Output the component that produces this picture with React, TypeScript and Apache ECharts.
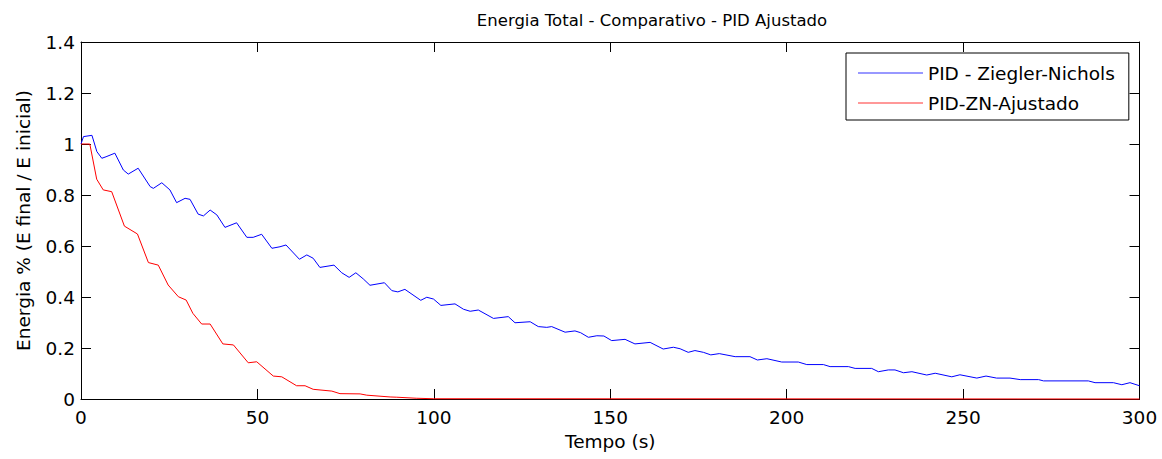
import React, { useEffect, useRef } from "react";
import * as echarts from "echarts";

// Blue series: PID - Ziegler-Nichols
const zigTime = [0, 0.7, 3.1, 4.5, 5.9, 7.1, 9.6, 12.0, 13.4, 16.2, 19.6, 20.5, 22.9, 25.2, 27.1, 29.5, 30.9, 33.2, 34.7, 36.6, 38.5, 40.8, 44.1, 47.0, 48.8, 51.2, 54.1, 56.4, 58.1, 61.9, 64.0, 65.8, 67.7, 71.7, 73.9, 76.0, 77.9, 80.0, 81.9, 86.0, 88.1, 89.8, 91.8, 96.3, 98.0, 99.9, 102.0, 106.0, 108.4, 110.3, 112.6, 116.9, 121.1, 123.0, 127.3, 129.6, 132.0, 133.4, 137.2, 140.0, 141.6, 143.8, 146.2, 148.2, 150.4, 154.2, 157.0, 161.3, 165.0, 167.9, 169.8, 172.1, 174.0, 176.4, 178.5, 180.9, 185.4, 189.6, 191.7, 194.4, 198.6, 203.3, 205.7, 210.4, 212.3, 217.5, 219.4, 224.1, 226.0, 228.8, 230.7, 233.1, 235.5, 239.7, 242.1, 246.8, 249.1, 253.9, 256.5, 259.5, 263.3, 266.2, 271.4, 272.8, 285.5, 287.4, 292.6, 295.0, 297.3, 300];
const zigEnergy = [1.0, 1.029, 1.034, 0.97, 0.944, 0.95, 0.964, 0.898, 0.882, 0.905, 0.833, 0.826, 0.848, 0.82, 0.77, 0.787, 0.783, 0.725, 0.718, 0.741, 0.722, 0.673, 0.691, 0.634, 0.634, 0.646, 0.591, 0.597, 0.604, 0.548, 0.565, 0.552, 0.516, 0.525, 0.495, 0.477, 0.495, 0.471, 0.446, 0.456, 0.425, 0.42, 0.43, 0.387, 0.399, 0.392, 0.367, 0.373, 0.352, 0.344, 0.349, 0.316, 0.323, 0.299, 0.303, 0.284, 0.281, 0.284, 0.262, 0.267, 0.26, 0.242, 0.248, 0.247, 0.229, 0.234, 0.216, 0.222, 0.196, 0.203, 0.197, 0.183, 0.19, 0.183, 0.173, 0.178, 0.166, 0.166, 0.153, 0.158, 0.145, 0.145, 0.135, 0.135, 0.127, 0.127, 0.12, 0.12, 0.107, 0.114, 0.114, 0.103, 0.107, 0.094, 0.101, 0.087, 0.095, 0.082, 0.09, 0.082, 0.082, 0.076, 0.076, 0.071, 0.071, 0.064, 0.064, 0.056, 0.064, 0.052];

// Red series: PID-ZN-Ajustado
const adjTime = [0, 2.5, 4.45, 6.3, 8.7, 12.3, 16.0, 19.1, 21.9, 24.7, 27.6, 29.8, 31.7, 34.2, 36.6, 40.2, 43.2, 47.4, 49.8, 54.5, 56.9, 61.1, 63.5, 65.8, 71.1, 73.4, 79.1, 81.0, 87.6, 89.5, 95, 100, 300];
const adjEnergy = [1.0, 1.0, 0.862, 0.82, 0.813, 0.678, 0.647, 0.535, 0.525, 0.447, 0.401, 0.388, 0.336, 0.294, 0.294, 0.216, 0.212, 0.142, 0.146, 0.09, 0.087, 0.052, 0.052, 0.038, 0.031, 0.021, 0.02, 0.015, 0.008, 0.007, 0.003, 0.001, 0.0];

const seriesNames = ["PID - Ziegler-Nichols", "PID-ZN-Ajustado"];
const titleText = "Energia Total - Comparativo - PID Ajustado";
const xAxisName = "Tempo (s)";
const yAxisName = "Energia % (E final / E inicial)";

const FONT = "DejaVu Sans";

export default function App() {
  const ref = useRef<HTMLDivElement>(null);
  useEffect(() => {
    document.body.style.margin = "0";
    const chart = echarts.init(ref.current!, null, { renderer: "svg" });
    const zip = (t: number[], v: number[]) => t.map((x, i) => [x, v[i]]);
    const tickStyle = { show: true, inside: true, length: 10, lineStyle: { color: "#000", width: 1 } };
    const lineAx = { show: true, onZero: false, lineStyle: { color: "#000", width: 1 } };
    chart.setOption({
      animation: false,
      backgroundColor: "#fff",
      title: {
        text: titleText,
        left: 647,
        textAlign: "center",
        top: 7,
        textStyle: { fontFamily: FONT, fontSize: 16.5, fontWeight: "normal", color: "#000" },
      },
      legend: {
        orient: "vertical",
        left: 846,
        top: 53,
        padding: [10, 14, 7, 12],
        itemWidth: 65,
        itemHeight: 1.2,
        itemGap: 10,
        borderColor: "#000",
        borderWidth: 1,
        backgroundColor: "#fff",
        textStyle: { fontFamily: FONT, fontSize: 18.5, color: "#000", lineHeight: 20 },
        data: [
          { name: seriesNames[0], icon: "rect", itemStyle: { color: "#3333ff" } },
          { name: seriesNames[1], icon: "rect", itemStyle: { color: "#ff3333" } },
        ],
      },
      grid: { left: 81, right: 22.5, top: 42, bottom: 60, containLabel: false },
      xAxis: [
        {
          type: "value",
          min: 0,
          max: 300,
          interval: 50,
          position: "bottom",
          axisLine: lineAx,
          axisTick: tickStyle,
          splitLine: { show: false },
          axisLabel: { fontFamily: FONT, fontSize: 18.5, color: "#000", margin: 9 },
          name: xAxisName,
          nameLocation: "middle",
          nameGap: 32,
          nameTextStyle: { fontFamily: FONT, fontSize: 18.5, color: "#000" },
        },
        {
          type: "value",
          min: 0,
          max: 300,
          interval: 50,
          position: "top",
          axisLine: lineAx,
          axisTick: tickStyle,
          splitLine: { show: false },
          axisLabel: { show: false },
        },
      ],
      yAxis: [
        {
          type: "value",
          min: 0,
          max: 1.4,
          interval: 0.2,
          position: "left",
          axisLine: lineAx,
          axisTick: tickStyle,
          splitLine: { show: false },
          axisLabel: {
            fontFamily: FONT,
            fontSize: 18.5,
            color: "#000",
            margin: 6,
            formatter: (v: number) => String(Math.round(v * 10) / 10),
          },
          name: yAxisName,
          nameLocation: "middle",
          nameGap: 48,
          nameTextStyle: { fontFamily: FONT, fontSize: 18.5, color: "#000" },
        },
        {
          type: "value",
          min: 0,
          max: 1.4,
          interval: 0.2,
          position: "right",
          axisLine: lineAx,
          axisTick: tickStyle,
          splitLine: { show: false },
          axisLabel: { show: false },
        },
      ],
      series: [
        {
          name: seriesNames[0],
          type: "line",
          data: zip(zigTime, zigEnergy),
          xAxisIndex: 0,
          yAxisIndex: 0,
          symbol: "none",
          clip: false,
          z: 5,
          lineStyle: { color: "#0000ff", width: 1 },
          itemStyle: { color: "#0000ff" },
        },
        {
          name: seriesNames[1],
          type: "line",
          data: zip(adjTime, adjEnergy),
          xAxisIndex: 0,
          yAxisIndex: 0,
          symbol: "none",
          clip: false,
          z: 5,
          lineStyle: { color: "#ff0000", width: 1 },
          itemStyle: { color: "#ff0000" },
        },
      ],
    });
    return () => chart.dispose();
  }, []);
  return <div ref={ref} style={{ width: 1162, height: 459 }} />;
}
